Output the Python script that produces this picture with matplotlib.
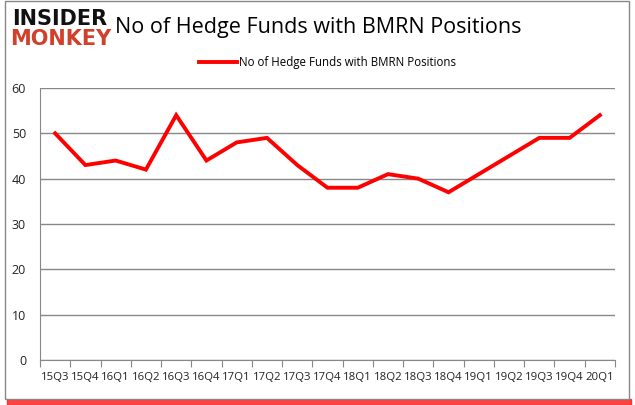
import matplotlib
matplotlib.use("Agg")
import matplotlib.pyplot as plt
from matplotlib.patches import Rectangle

quarters = ["15Q3", "15Q4", "16Q1", "16Q2", "16Q3", "16Q4", "17Q1", "17Q2",
            "17Q3", "17Q4", "18Q1", "18Q2", "18Q3", "18Q4", "19Q1", "19Q2",
            "19Q3", "19Q4", "20Q1"]
funds = [50, 43, 44, 42, 54, 44, 48, 49, 43, 38, 38, 41, 40, 37, 41, 45,
         49, 49, 54]
yticks = [0, 10, 20, 30, 40, 50, 60]

plt.rcParams['font.family'] = ['Open Sans', 'DejaVu Sans']

fig = plt.figure(figsize=(6.35, 4.05), dpi=100)

# outer frame with red shadow
fig.patches.append(Rectangle((7 / 635, 0), 624 / 635, 6 / 405,
                             transform=fig.transFigure, color="#ff2020",
                             alpha=0.85, zorder=0))
fig.patches.append(Rectangle((5 / 635, 6 / 405), 624 / 635, 398 / 405,
                             transform=fig.transFigure, facecolor="white",
                             edgecolor="#888888", linewidth=1, zorder=1))

ax = fig.add_axes([40 / 635, 45 / 405, 575 / 635, 272 / 405])
ax.set_zorder(2)
x = list(range(len(quarters)))
ax.plot(x, funds, color="#ff0000", linewidth=2.8,
        label="No of Hedge Funds with BMRN Positions", solid_joinstyle="miter")

ax.set_xlim(-0.5, len(quarters) - 0.5)
ax.set_ylim(0, 60)
ax.set_yticks(yticks)
ax.set_xticks([i - 0.5 for i in range(len(quarters) + 1)], minor=False)
ax.set_xticklabels([])
ax.set_xticks(x, minor=True)
ax.set_xticklabels(quarters, minor=True)
ax.tick_params(axis="x", which="major", length=5, color="#888888")
ax.tick_params(axis="x", which="minor", length=0, pad=9, labelsize=8.2,
               labelcolor="#222222")
ax.tick_params(axis="y", length=0, pad=10, labelsize=9, labelcolor="#222222")
ax.grid(axis="y", color="#888888", linewidth=1)
ax.set_axisbelow(True)
for side in ["top", "right"]:
    ax.spines[side].set_visible(False)
ax.spines["left"].set_color("#888888")
ax.spines["bottom"].set_color("#888888")

ax.legend(loc="lower center", bbox_to_anchor=(0.5, 1.03), frameon=False,
          fontsize=8.3, handlelength=3.3, handletextpad=0.1)

fig.text(318 / 635, 1 - 27 / 405, "No of Hedge Funds with BMRN Positions",
         ha="center", va="center", fontsize=15.5, color="black")

# logo
fig.text(12 / 635, 1 - 19 / 405, "INSIDER", ha="left", va="center",
         fontsize=15, fontweight="heavy", color="#111111",
         family="DejaVu Sans")
fig.text(10 / 635, 1 - 39 / 405, "MONKEY", ha="left", va="center",
         fontsize=15, fontweight="heavy", color="#d0402b",
         family="DejaVu Sans")

fig.savefig("out.png", dpi=100)
